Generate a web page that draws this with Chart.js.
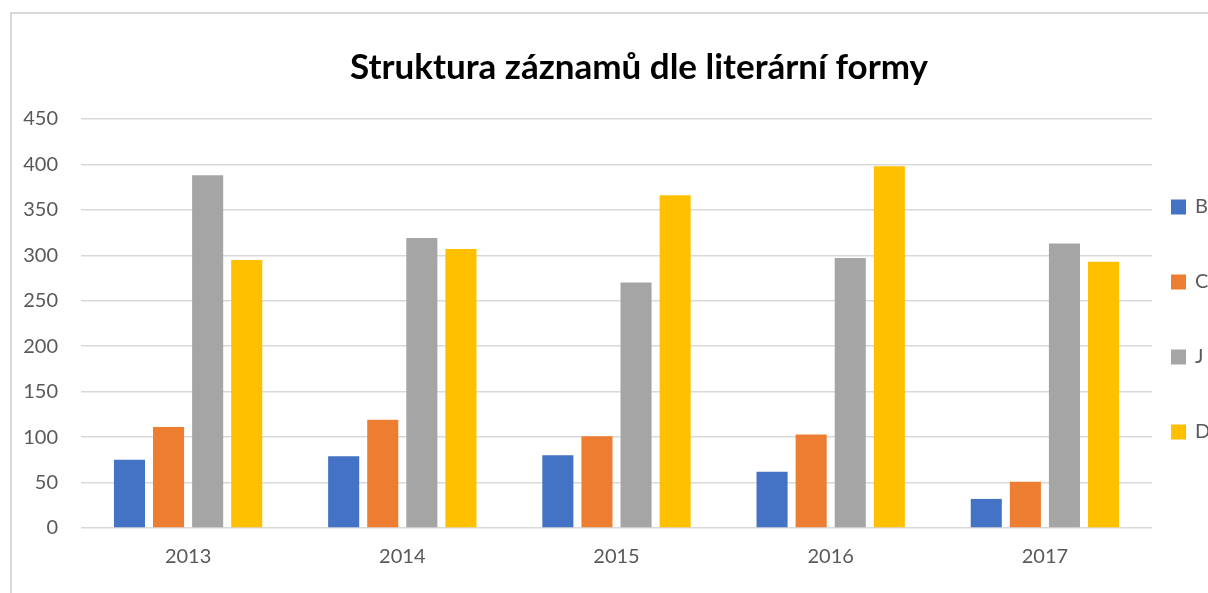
<!DOCTYPE html>
<html>
<head>
<meta charset="utf-8">
<script src="https://cdn.jsdelivr.net/npm/chart.js@4"></script>
<style>
  html, body { margin: 0; padding: 0; overflow: hidden; background: #fff; }
  #frame { position: absolute; left: 10px; top: 12px; width: 1300px; height: 700px; border: 2px solid #d9d9d9; }
  /* the chart runs on past the right edge of the page, like in the original shot */
  #wrap { position: absolute; left: 0; top: 0; width: 1278px; height: 593px; }
</style>
</head>
<body>
<div id="frame"></div>
<div id="wrap"><canvas id="formChart"></canvas></div>
<script>
var years = ["2013", "2014", "2015", "2016", "2017"];
var seriesNames = ["B", "C", "J", "D"];
var valuesB = [75, 79, 80, 62, 32];
var valuesC = [111, 119, 101, 103, 51];
var valuesJ = [388, 319, 270, 297, 313];
var valuesD = [295, 307, 366, 398, 293];
var yTicks = [0, 50, 100, 150, 200, 250, 300, 350, 400, 450];

var colors = ["#4472C4", "#ED7D31", "#A5A5A5", "#FFC000"];
var allValues = [valuesB, valuesC, valuesJ, valuesD];

// legend drawn by hand, the built-in one eats too much width
var sideLegend = {
  id: "sideLegend",
  afterDraw: function (chart) {
    var ctx = chart.ctx;
    var x = chart.chartArea.right + 19;
    var y0 = 207;
    ctx.save();
    ctx.font = "20px Lato";
    ctx.textBaseline = "middle";
    chart.data.datasets.forEach(function (ds, i) {
      var y = y0 + i * 75;
      ctx.fillStyle = ds.backgroundColor;
      ctx.fillRect(x, y - 7.5, 15, 15);
      ctx.fillStyle = "#595959";
      ctx.fillText(ds.label, x + 24, y);
    });
    ctx.restore();
  }
};

var ctx = document.getElementById("formChart");
var myChart = new Chart(ctx, {
  type: "bar",
  data: {
    labels: years,
    datasets: seriesNames.map(function (name, i) {
      return {
        label: name,
        data: allValues[i],
        backgroundColor: colors[i],
        categoryPercentage: 0.73,
        barPercentage: 0.795
      };
    })
  },
  options: {
    responsive: true,
    maintainAspectRatio: false,
    animation: false,
    layout: {
      padding: { left: 0, right: 0, bottom: 15 }
    },
    plugins: {
      legend: { display: false },
      tooltip: { enabled: false },
      title: {
        display: true,
        text: "Struktura záznamů dle literární formy",
        color: "#000",
        font: { family: "Lato", size: 35, weight: "bold", lineHeight: 1.2 },
        padding: { top: 47, bottom: 30 }
      }
    },
    scales: {
      x: {
        grid: { display: false },
        border: { display: false },
        ticks: { color: "#595959", font: { family: "Lato", size: 20 }, padding: 9 }
      },
      y: {
        min: 0,
        max: 450,
        afterBuildTicks: function (axis) {
          axis.ticks = yTicks.map(function (v) { return { value: v }; });
        },
        afterFit: function (axis) {
          axis.width = 81;
        },
        grid: { color: "#d9d9d9", lineWidth: 1.5, drawTicks: false },
        border: { display: false },
        ticks: { color: "#595959", font: { family: "Lato", size: 20 }, padding: 23 }
      },
      // empty axis on the right, keeps room for the legend
      yRight: {
        position: "right",
        grid: { display: false },
        border: { display: false },
        ticks: { display: false },
        afterFit: function (axis) {
          axis.width = 126;
        }
      }
    }
  },
  plugins: [sideLegend]
});
</script>
</body>
</html>
